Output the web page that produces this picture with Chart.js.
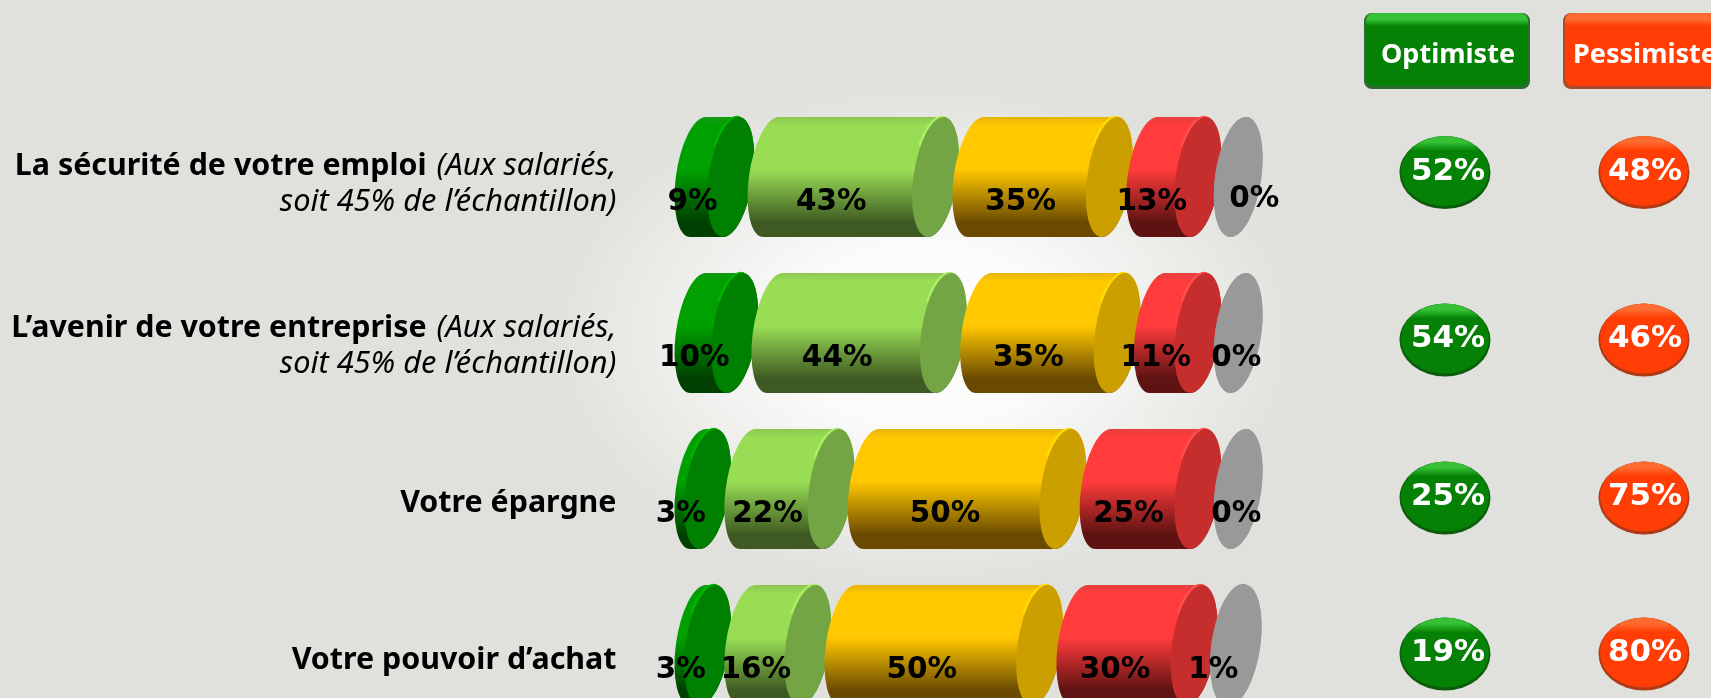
<!DOCTYPE html>
<html lang="fr"><head><meta charset="utf-8">
<script src="https://cdn.jsdelivr.net/npm/chart.js@4"></script>
<style>
html,body{margin:0;padding:0;width:1711px;height:698px;overflow:hidden;background:#E0E1DC}
#wrap{position:relative;width:1711px;height:698px;overflow:hidden;background:radial-gradient(ellipse 380px 255px at 925px 335px,#ffffff 0,#fbfbfa 35%,#E0E1DC 100%)}
canvas{display:block}
</style></head><body><div id="wrap"><canvas id="c" width="1711" height="724"></canvas></div>
<script>
const categories=['La sécurité de votre emploi','L’avenir de votre entreprise','Votre épargne','Votre pouvoir d’achat'];
const noteLine1=['(Aux salariés,','(Aux salariés,','',''];
const noteLine2=['soit 45% de l’échantillon)','soit 45% de l’échantillon)','',''];
const tresOptimiste=[9,10,3,3];
const plutotOptimiste=[43,44,22,16];
const plutotPessimiste=[35,35,50,50];
const tresPessimiste=[13,11,25,30];
const sansOpinion=[0,0,0,1];
const totalOptimiste=[52,54,25,19];
const totalPessimiste=[48,46,75,80];
const headers=['Optimiste','Pessimiste'];

const FONT='"Noto Sans"';
const GAP=38.2, TILT=0.148;
const labelShift=[2.6,8,9,10];
const bubbleShift=[-4.5,7,9,9];
const styles=[
 {top:'#00a000',edge:'#149a14',dark:'#004000',cap:'#008000',hi:'#00b400',rx:22,trim:2},
 {top:'#99dd55',edge:'#8cc650',dark:'#3e5a22',cap:'#73a544',hi:'#aaf066',rx:22,trim:2},
 {top:'#ffc800',edge:'#e6b40a',dark:'#6a4a00',cap:'#cc9f00',hi:'#ffdc00',rx:22,trim:2},
 {top:'#ff3b3b',edge:'#e64040',dark:'#5e1212',cap:'#c62d2d',hi:'#ff5050',rx:22,trim:2},
 {top:'#999999',edge:'#999999',dark:'#999999',cap:'#999999',hi:'#999999',rx:23,trim:1}
];
function cylinder(ctx,x0,x1,yc,h,s){
  const RX=s.rx;
  x1-=s.trim;
  if(x1<x0)x1=x0;
  const ry=Math.sqrt(Math.max(0,(h/2)*(h/2)-RX*RX*Math.sin(TILT)**2))/Math.cos(TILT);
  const tTop=Math.atan2(-ry*Math.cos(TILT),-RX*Math.sin(TILT));
  const g=ctx.createLinearGradient(0,yc-h/2,0,yc+h/2);
  g.addColorStop(0,s.edge);g.addColorStop(0.07,s.top);g.addColorStop(0.44,s.top);g.addColorStop(0.88,s.dark);g.addColorStop(1,s.dark);
  ctx.beginPath();
  ctx.ellipse(x0,yc,RX,ry,TILT,tTop,tTop-Math.PI,true);
  ctx.ellipse(x1,yc,RX,ry,TILT,tTop+Math.PI,tTop,true);
  ctx.closePath();
  ctx.fillStyle=g;ctx.fill();
  if(x1>x0+1){
    ctx.beginPath();ctx.ellipse(x1-1.5,yc,RX,ry,TILT,Math.PI+0.5,-1.5,false);
    ctx.strokeStyle=s.hi;ctx.lineWidth=2.5;ctx.stroke();
  }
  ctx.beginPath();ctx.ellipse(x1,yc,RX,ry,TILT,0,Math.PI*2);ctx.fillStyle=s.cap;ctx.fill();
}
function valueLabel(ctx,text,x,y){
  ctx.font='bold 29.5px "DejaVu Sans"';ctx.textAlign='center';ctx.textBaseline='middle';
  ctx.fillStyle='#000';ctx.fillText(text,x,y);
}
function rr(ctx,x,y,w,h,r){ctx.beginPath();ctx.roundRect(x,y,w,h,r);}
function button(ctx,x,y,w,h,c,hi,lo,text,dx){
  rr(ctx,x,y,w,h,8);ctx.fillStyle=lo;ctx.fill();
  rr(ctx,x+2,y,w-4,h-3,8);
  const g=ctx.createLinearGradient(0,y,0,y+h);
  g.addColorStop(0,hi);g.addColorStop(0.09,hi);g.addColorStop(0.17,c);g.addColorStop(1,c);
  ctx.fillStyle=g;ctx.fill();
  ctx.font='bold 27px '+FONT;ctx.textAlign='center';ctx.textBaseline='middle';ctx.fillStyle='#fff';
  ctx.fillText(text,x+w/2+dx,y+42);
}
function bubble(ctx,cx,cy,c,hi,lo,text,dx){
  ctx.beginPath();ctx.ellipse(cx,cy,45.5,36.5,0,0,Math.PI*2);ctx.fillStyle=lo;ctx.fill();
  ctx.beginPath();ctx.ellipse(cx,cy-1.5,44,35,0,0,Math.PI*2);
  const g=ctx.createLinearGradient(0,cy-36,0,cy+36);
  g.addColorStop(0,hi);g.addColorStop(0.08,hi);g.addColorStop(0.2,c);g.addColorStop(1,c);
  ctx.fillStyle=g;ctx.fill();
  ctx.font='bold 31px "DejaVu Sans"';ctx.textAlign='center';ctx.textBaseline='middle';ctx.fillStyle='#fff';
  ctx.fillText(text+'%',cx+dx,cy-1);
}
const cylinders={
  id:'cylinders',
  beforeDatasetsDraw(chart){
    const ctx=chart.ctx;
    chart.data.datasets.forEach((ds,k)=>{
      chart.getDatasetMeta(k).data.forEach(b=>{
        cylinder(ctx,b.base+k*GAP,b.x+k*GAP,b.y,b.height,styles[k]);
      });
    });
    chart.data.datasets.forEach((ds,k)=>{
      chart.getDatasetMeta(k).data.forEach((b,i)=>{
        const mid=(b.base+b.x)/2+k*GAP;
        let x=mid-23,y=b.y+25;
        if(k===4&&ds.data[i]===0){x=mid+(i===0?16:-2);if(i===0)y-=3;}
        valueLabel(ctx,ds.data[i]+'%',x,y);
      });
    });
    return false;
  },
  afterDraw(chart){
    const ctx=chart.ctx,yS=chart.scales.y;
    ctx.save();
    const R=616.5;
    categories.forEach((t,i)=>{
      const y0=yS.getPixelForValue(i), yc=y0+labelShift[i];
      ctx.textBaseline='middle';ctx.fillStyle='#000';ctx.textAlign='right';
      if(noteLine1[i]){
        ctx.font='italic 30.8px '+FONT;
        const w=ctx.measureText(noteLine1[i]).width;
        ctx.fillText(noteLine1[i],R,yc-13);
        ctx.fillText(noteLine2[i],R,yc+23);
        ctx.font='bold 30.4px '+FONT;
        ctx.fillText(t,R-w-10,yc-13);
      }else{
        ctx.font='bold 30.4px '+FONT;
        ctx.fillText(t,R,yc+5);
      }
      bubble(ctx,1445,y0+bubbleShift[i],'#058205','#35c035','#0b5c0b',String(totalOptimiste[i]),3);
      bubble(ctx,1644,y0+bubbleShift[i],'#ff3d04','#ff6a30','#b03a16',String(totalPessimiste[i]),1);
    });
    button(ctx,1364,13,166,76,'#058205','#35c035','#2f6a2f',headers[0],1);
    button(ctx,1563,13,166,76,'#ff3d04','#ff6a30','#a84a2c',headers[1],-1);
    ctx.restore();
  }
};
new Chart(document.getElementById('c'),{
  type:'bar',
  data:{labels:categories,datasets:[
    {label:'Très optimiste',data:tresOptimiste,backgroundColor:'#008000'},
    {label:'Plutôt optimiste',data:plutotOptimiste,backgroundColor:'#99dd55'},
    {label:'Plutôt pessimiste',data:plutotPessimiste,backgroundColor:'#ffc800'},
    {label:'Très pessimiste',data:tresPessimiste,backgroundColor:'#ff3b3b'},
    {label:'NSP',data:sansOpinion,backgroundColor:'#999999'}
  ]},
  options:{
    indexAxis:'y',responsive:false,animation:false,
    layout:{padding:{left:698,right:625.6,top:99,bottom:1}},
    datasets:{bar:{barThickness:120}},
    plugins:{legend:{display:false},tooltip:{enabled:false}},
    scales:{
      x:{stacked:true,min:0,max:100,display:false},
      y:{stacked:true,display:false}
    }
  },
  plugins:[cylinders]
});
</script></body></html>
